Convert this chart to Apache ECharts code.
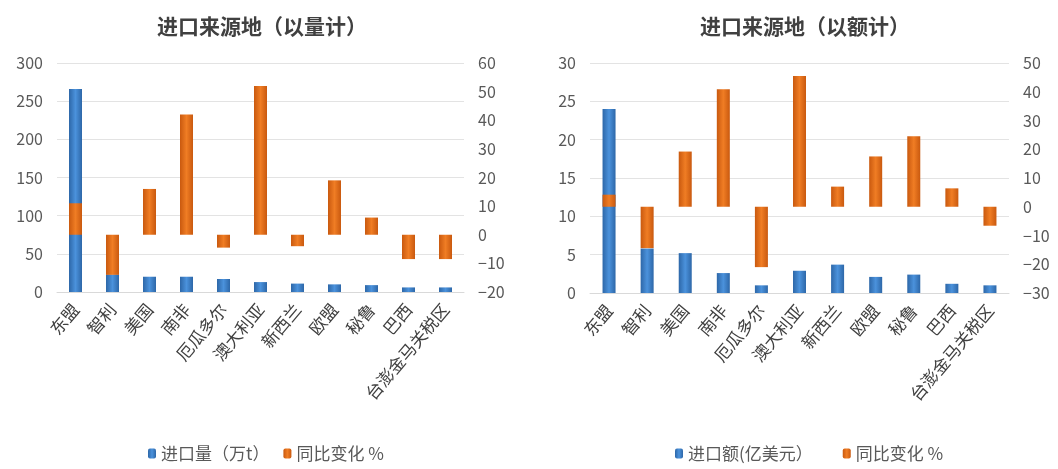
<!DOCTYPE html>
<html>
<head>
<meta charset="utf-8">
<script src="https://cdn.jsdelivr.net/npm/echarts@6/dist/echarts.min.js"></script>
<style>html,body{margin:0;padding:0;background:#fff;}#c{width:1058px;height:469px;}</style>
</head>
<body>
<div id="c"></div>
<script>
const categories = ['东盟','智利','美国','南非','厄瓜多尔','澳大利亚','新西兰','欧盟','秘鲁','巴西','台澎金马关税区'];
const volume = [266, 23, 20, 20, 17, 13, 11, 10, 9, 6, 6];
const volumeYoY = [11, -14, 16, 42, -4.5, 52, -4, 19, 6, -8.5, -8.5];
const value = [24, 5.8, 5.2, 2.6, 1.0, 2.9, 3.7, 2.1, 2.4, 1.2, 1.0];
const valueYoY = [4.2, -14.4, 19.2, 40.9, -21, 45.5, 7, 17.5, 24.5, 6.4, -6.6];
const titles = ['进口来源地（以量计）', '进口来源地（以额计）'];
const seriesNames = ['进口量（万t）', '同比变化 %', '进口额(亿美元）'];

const FONT = '"Noto Sans CJK SC", "Noto Sans", sans-serif';
const blue = new echarts.graphic.LinearGradient(0, 0, 1, 0, [
  {offset: 0, color: '#2d67a8'}, {offset: 0.5, color: '#4b92dc'}, {offset: 1, color: '#2d67a8'}
]);
const orange = new echarts.graphic.LinearGradient(0, 0, 1, 0, [
  {offset: 0, color: '#c9590f'}, {offset: 0.5, color: '#f07d24'}, {offset: 1, color: '#c9590f'}
]);
const minusFmt = v => String(v).replace('-', '−');
const axisLabel = {color: '#595959', fontSize: 16, fontFamily: FONT};

function xAxis(i) {
  return {
    type: 'category', gridIndex: i, data: categories,
    axisLine: {lineStyle: {color: '#d9d9d9'}}, axisTick: {show: false},
    axisLabel: {color: '#404040', fontSize: 17, fontFamily: FONT, rotate: 50, interval: 0, margin: 14}
  };
}
function yLeft(i, max, interval) {
  return {
    type: 'value', gridIndex: i, min: 0, max: max, interval: interval, position: 'left',
    axisLine: {show: false}, axisTick: {show: false},
    splitLine: {lineStyle: {color: '#e3e3e3'}},
    axisLabel: Object.assign({margin: 14}, axisLabel)
  };
}
function yRight(i, min, max) {
  return {
    type: 'value', gridIndex: i, min: min, max: max, interval: 10, position: 'right',
    axisLine: {show: false}, axisTick: {show: false}, splitLine: {show: false},
    axisLabel: Object.assign({margin: 14, formatter: minusFmt}, axisLabel)
  };
}

const chart = echarts.init(document.getElementById('c'), null, {renderer: 'canvas'});
chart.setOption({
  animation: false,
  backgroundColor: '#fff',
  title: [
    {text: titles[0], left: 257, top: 11, textAlign: 'center',
     textStyle: {fontSize: 21, fontWeight: 'bold', color: '#404040', fontFamily: FONT}},
    {text: titles[1], left: 800, top: 11, textAlign: 'center',
     textStyle: {fontSize: 21, fontWeight: 'bold', color: '#404040', fontFamily: FONT}}
  ],
  legend: [
    {data: [seriesNames[0], seriesNames[1]], left: 143, top: 440, itemWidth: 8, itemHeight: 10, itemGap: 14,
     textStyle: {fontSize: 17, color: '#595959', fontFamily: FONT}},
    {data: [seriesNames[2], seriesNames[1]], left: 670, top: 440, itemWidth: 8, itemHeight: 10, itemGap: 30,
     textStyle: {fontSize: 17, color: '#595959', fontFamily: FONT}}
  ],
  grid: [
    {left: 57, top: 63, width: 407, height: 229},
    {left: 590, top: 63, width: 419, height: 230}
  ],
  xAxis: [xAxis(0), xAxis(1)],
  yAxis: [yLeft(0, 300, 50), yRight(0, -20, 60), yLeft(1, 30, 5), yRight(1, -30, 50)],
  series: [
    {name: seriesNames[0], type: 'bar', xAxisIndex: 0, yAxisIndex: 0, data: volume,
     barWidth: 13, barGap: '-100%', itemStyle: {color: blue}, z: 2},
    {name: seriesNames[1], type: 'bar', xAxisIndex: 0, yAxisIndex: 1, data: volumeYoY,
     barWidth: 13, barGap: '-100%', itemStyle: {color: orange}, z: 3},
    {name: seriesNames[2], type: 'bar', xAxisIndex: 1, yAxisIndex: 2, data: value,
     barWidth: 13, barGap: '-100%', itemStyle: {color: blue}, z: 2},
    {name: seriesNames[1], type: 'bar', xAxisIndex: 1, yAxisIndex: 3, data: valueYoY,
     barWidth: 13, barGap: '-100%', itemStyle: {color: orange}, z: 3}
  ]
});
</script>
</body>
</html>
